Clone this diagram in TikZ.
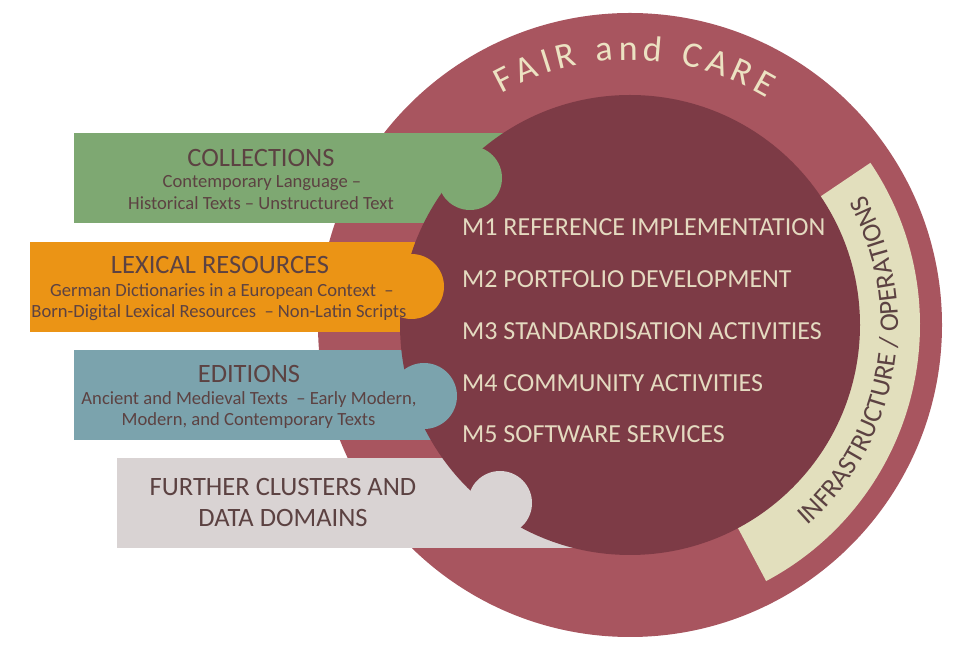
\documentclass[tikz,border=0pt]{standalone}
\usepackage{fontspec}
\setmainfont{Carlito}
\usetikzlibrary{decorations.text}

\definecolor{ringrose}{RGB}{168,85,95}
\definecolor{coredark}{RGB}{125,59,70}
\definecolor{bandcream}{RGB}{226,223,189}
\definecolor{colgreen}{RGB}{126,168,114}
\definecolor{lexorange}{RGB}{235,148,21}
\definecolor{edteal}{RGB}{123,163,173}
\definecolor{furgrey}{RGB}{217,211,211}
\definecolor{boxtext}{RGB}{92,66,66}
\definecolor{mtext}{RGB}{228,218,192}
\definecolor{fairtext}{RGB}{236,226,194}

\begin{document}
\begin{tikzpicture}[x=1pt,y=1pt,
    ttl/.style={anchor=base,inner sep=0pt,text=boxtext,
        font=\fontsize{26.5}{30}\selectfont},
    sub/.style={anchor=base,inner sep=0pt,text=boxtext,
        font=\fontsize{18.6}{22}\selectfont},
    mitem/.style={anchor=base west,inner sep=0pt,text=mtext,
        font=\fontsize{26}{30}\selectfont}]

    \useasboundingbox (0,0) rectangle (977,650);
    \coordinate (c) at (630,325);

    % the rings

    \fill[ringrose] (c) circle (312);
    \fill[bandcream,shift={(c)}] (-62:226) arc[start angle=-62,end
    angle=34,radius=226] -- (34:290) arc[start angle=34,end
    angle=-62,radius=290] -- cycle;

    % the pieces

    \fill[colgreen] (74,427) rectangle (503,517);
    \fill[lexorange] (30,318) rectangle (415,408);
    \fill[edteal] (74,210) rectangle (431,300);
    \fill[furgrey] (117,102) rectangle (575,192);

    \fill[coredark] (c) circle (230);

    \fill[colgreen] (470,472) circle (32);
    \fill[lexorange] (411.5,363.5) circle (32.5);
    \fill[edteal] (424,254) circle (33);
    \fill[furgrey] (500,147) circle (32);

    % the texts

    \node[ttl] (coll) at (261,483) {COLLECTIONS};
    \node[sub] (coll1) at (262,462) {Contemporary Language –};
    \node[sub] (coll2) at (261,440) {Historical Texts – Unstructured Text};

    \node[ttl] (lex) at (220,376) {LEXICAL RESOURCES};
    \node[sub] (lex1) at (222,353) {German Dictionaries in a European Context \ –};
    \node[sub] (lex2) at (219,332) {Born-Digital Lexical Resources \ – Non-Latin Scripts};

    \node[ttl] (ed) at (249,267) {EDITIONS};
    \node[sub] (ed1) at (249,245) {Ancient and Medieval Texts \ – Early Modern,};
    \node[sub] (ed2) at (248.5,224) {Modern, and Contemporary Texts};

    \node[ttl] (fur1) at (283,154) {FURTHER CLUSTERS AND};
    \node[ttl] (fur2) at (283,123) {DATA DOMAINS};

    \foreach \lbl [count=\i] in {M1 REFERENCE IMPLEMENTATION,
        M2 PORTFOLIO DEVELOPMENT, M3 STANDARDISATION ACTIVITIES,
        M4 COMMUNITY ACTIVITIES, M5 SOFTWARE SERVICES}
      \node[mitem] (m\i) at (462,465.75-51.75*\i) {\lbl};

    \path[shift={(c)},decorate,decoration={text along path,
        text align={fit to path},text color=fairtext,
        text={|\fontsize{36}{36}\selectfont|FAIR and CARE}}]
    (119:265) arc[start angle=119,end angle=59,radius=265];

    \path[shift={(c)},decorate,decoration={text along path,
        text align=center,text color=boxtext,
        text={|\fontsize{27}{27}\selectfont|INFRASTRUCTURE / OPERATIONS}}]
    (-57:268) arc[start angle=-57,end angle=37.6,radius=268];
  \end{tikzpicture}
\end{document}
